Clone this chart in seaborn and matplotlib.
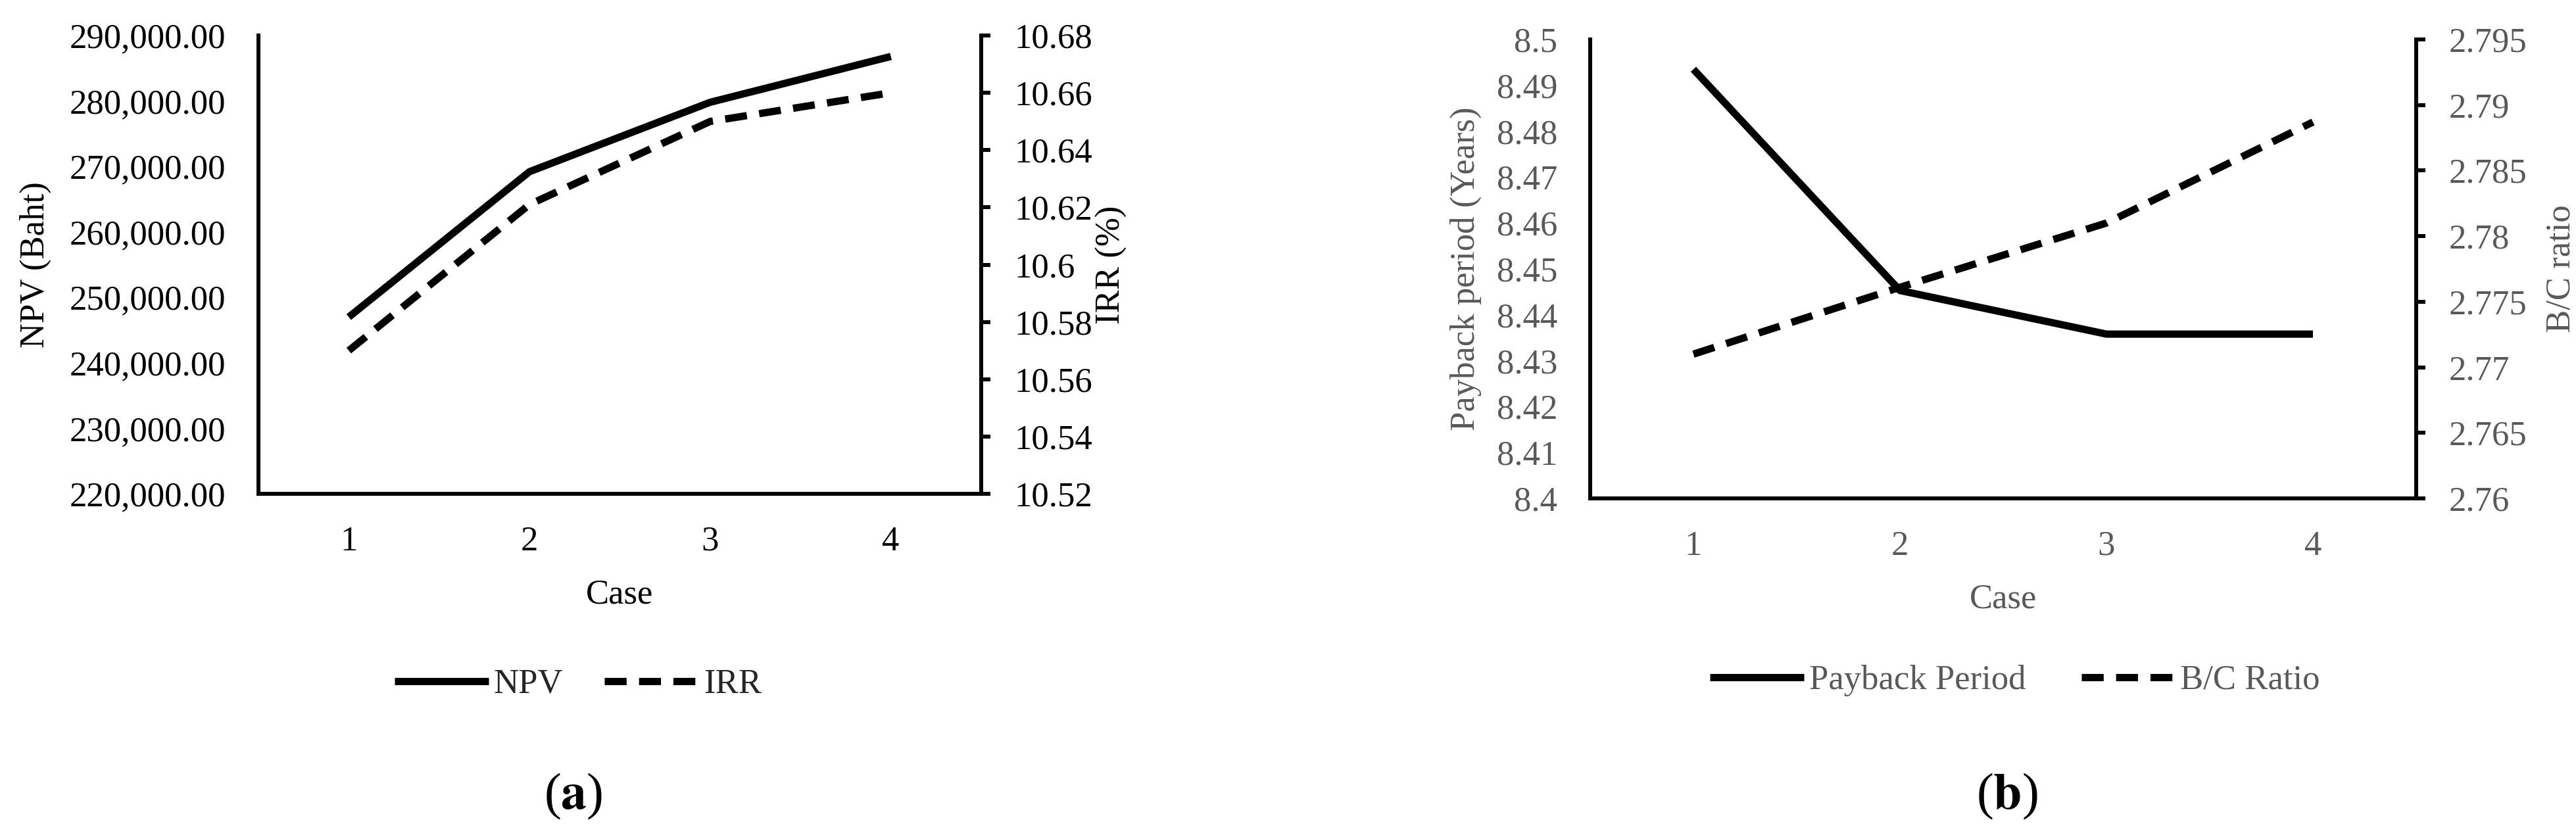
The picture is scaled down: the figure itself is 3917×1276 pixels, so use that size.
import numpy as np
import pandas as pd
import matplotlib
matplotlib.use("Agg")
import matplotlib.pyplot as plt
from matplotlib.ticker import FuncFormatter, FixedLocator
import seaborn as sns

# ---------------- data ----------------
cases = [1, 2, 3, 4]
npv = [247000, 269200, 279800, 286800]
irr = [10.57, 10.621, 10.65, 10.66]
payback = [8.4935, 8.4453, 8.4358, 8.4358]
bc_ratio = [2.771, 2.7761, 2.7810, 2.7887]

npv_ticks = [220000, 230000, 240000, 250000, 260000, 270000, 280000, 290000]
irr_ticks = [10.52, 10.54, 10.56, 10.58, 10.60, 10.62, 10.64, 10.66, 10.68]
pb_ticks = [8.40, 8.41, 8.42, 8.43, 8.44, 8.45, 8.46, 8.47, 8.48, 8.49, 8.50]
bc_ticks = [2.760, 2.765, 2.770, 2.775, 2.780, 2.785, 2.790, 2.795]

df_a = pd.DataFrame({"Case": cases, "NPV": npv, "IRR": irr})
df_b = pd.DataFrame({"Case": cases, "Payback": payback, "BC": bc_ratio})

# ---------------- style ----------------
sns.set_style("white")
plt.rcParams["font.family"] = ["Liberation Serif", "DejaVu Serif"]
plt.rcParams["mathtext.fontset"] = "stix"

W, H = 3917, 1276
fig = plt.figure(figsize=(W / 100, H / 100), dpi=100)

FS = 38
LW = 8
SPW = 4.3
DASH = (0, (3.0, 1.7))
GREY = "#595959"


def fmt_g(v, pos=None):
    return f"{round(v, 4):g}"


def setup_panel(ax, axr, color):
    ax.set_xlim(0.5, 4.5)
    ax.xaxis.set_major_locator(FixedLocator(cases))
    for s in ["top", "right"]:
        ax.spines[s].set_visible(False)
    for s in ["left", "bottom"]:
        ax.spines[s].set_color("black")
        ax.spines[s].set_linewidth(SPW)
    for s in ["top", "left", "bottom"]:
        axr.spines[s].set_visible(False)
    axr.spines["right"].set_color("black")
    axr.spines["right"].set_linewidth(SPW)
    ax.tick_params(axis="x", length=0, pad=35, labelsize=FS, labelcolor=color)
    ax.tick_params(axis="y", length=0, pad=36, labelsize=FS, labelcolor=color)
    axr.tick_params(axis="y", length=10, width=SPW, direction="out", pad=26,
                    labelsize=FS, labelcolor=color, color="black")
    ax.grid(False)
    axr.grid(False)


# ---------------- panel (a) ----------------
ax1 = fig.add_axes([393 / W, 1 - 751 / H, (1492 - 393) / W, (751 - 54) / H])
ax1r = ax1.twinx()
sns.lineplot(data=df_a, x="Case", y="NPV", ax=ax1, color="black", lw=LW,
             label="NPV", legend=False, solid_capstyle="butt")
sns.lineplot(data=df_a, x="Case", y="IRR", ax=ax1r, color="black", lw=LW,
             linestyle=DASH, label="IRR", legend=False, dash_capstyle="butt")
ax1.set_ylim(220000, 290000)
ax1.yaxis.set_major_locator(FixedLocator(npv_ticks))
ax1.yaxis.set_major_formatter(FuncFormatter(lambda v, p: f"{v:,.2f}"))
ax1r.set_ylim(10.52, 10.68)
ax1r.yaxis.set_major_locator(FixedLocator(irr_ticks))
ax1r.yaxis.set_major_formatter(FuncFormatter(fmt_g))
setup_panel(ax1, ax1r, "black")
ax1.set_xlabel("Case", fontsize=FS, color="black", labelpad=24)
ax1.set_ylabel("NPV (Baht)", fontsize=FS, color="black", labelpad=20)
ax1r.set_ylabel("IRR (%)", fontsize=FS, color="black", labelpad=4)

h1 = ax1.get_lines() + ax1r.get_lines()
leg1 = fig.legend(h1, ["NPV", "IRR"], loc="center",
                  bbox_to_anchor=(879 / W, 1 - 1041 / H), ncol=2, frameon=False,
                  fontsize=FS, handlelength=2.7, handletextpad=0.15,
                  columnspacing=1.2)
fig.text(872 / W, 1 - 1211 / H, r"($\mathbf{a}$)", ha="center", va="center",
         fontsize=56, color="black")

# ---------------- panel (b) ----------------
ax2 = fig.add_axes([2418 / W, 1 - 758 / H, (3674 - 2418) / W, (758 - 60) / H])
ax2r = ax2.twinx()
sns.lineplot(data=df_b, x="Case", y="Payback", ax=ax2, color="black", lw=LW,
             label="Payback Period", legend=False, solid_capstyle="butt")
sns.lineplot(data=df_b, x="Case", y="BC", ax=ax2r, color="black", lw=LW,
             linestyle=DASH, label="B/C Ratio", legend=False, dash_capstyle="butt")
ax2.set_ylim(8.40, 8.50)
ax2.yaxis.set_major_locator(FixedLocator(pb_ticks))
ax2.yaxis.set_major_formatter(FuncFormatter(fmt_g))
ax2r.set_ylim(2.760, 2.795)
ax2r.yaxis.set_major_locator(FixedLocator(bc_ticks))
ax2r.yaxis.set_major_formatter(FuncFormatter(fmt_g))
setup_panel(ax2, ax2r, GREY)
ax2.set_xlabel("Case", fontsize=FS, color=GREY, labelpad=24)
ax2.set_ylabel("Payback period (Years)", fontsize=FS, color=GREY, labelpad=16)
ax2r.set_ylabel("B/C ratio", fontsize=FS, color=GREY, labelpad=20)

h2 = ax2.get_lines() + ax2r.get_lines()
leg2 = fig.legend(h2, ["Payback Period", "B/C Ratio"], loc="center",
                  bbox_to_anchor=(3064 / W, 1 - 1035 / H), ncol=2, frameon=False,
                  fontsize=FS, handlelength=2.7, handletextpad=0.15,
                  columnspacing=1.6, labelcolor=GREY)
fig.text(3052 / W, 1 - 1211 / H, r"($\mathbf{b}$)", ha="center", va="center",
         fontsize=56, color="black")

fig.savefig("out.png", dpi=100, facecolor="white")
